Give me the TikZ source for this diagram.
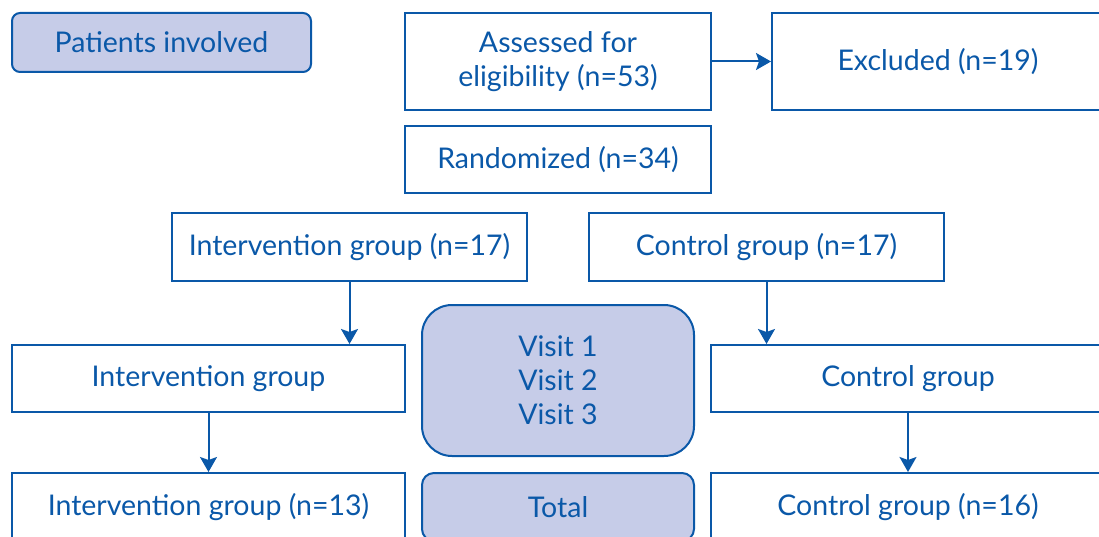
\documentclass[tikz,border=0pt]{standalone}
\usepackage{fontspec}
\setmainfont{Lato}
\usetikzlibrary{arrows.meta}
\definecolor{flowblue}{RGB}{10,88,168}
\definecolor{flowfill}{RGB}{198,204,232}

\begin{document}
\begin{tikzpicture}[x=1pt, y=-1pt,
		box/.style={draw=flowblue, line width=2pt, text=flowblue, align=center, inner sep=0pt,
			font=\fontsize{28.5}{34}\selectfont},
		softbox/.style={box, fill=flowfill, rounded corners=#1},
		link/.style={draw=flowblue, line width=2pt, -{Stealth[length=15pt, width=17pt, inset=3pt]}}]
			%%%%% START %%%%%
			
			\useasboundingbox (0, 0) rectangle (1099, 537);
			\clip (0, 0) rectangle (1099, 537);
			
			\node[softbox=8pt, minimum width=299pt, minimum height=59pt] (patients) at (161.5, 42.5) {Patients involved};
			
			\node[box, minimum width=306pt, minimum height=97pt] (assessed) at (558, 61.5) {Assessed for\\eligibility (n=53)};
			\node[box, minimum width=332pt, minimum height=97pt] (excluded) at (938, 61.5) {Excluded (n=19)};
			\node[box, minimum width=306pt, minimum height=67pt] (randomized) at (558, 159.5) {Randomized (n=34)};
			
			\node[box, minimum width=355pt, minimum height=68pt] (intA) at (349.5, 247) {Intervention group (n=17)};
			\node[box, minimum width=355pt, minimum height=68pt] (ctrlA) at (766.5, 247) {Control group (n=17)};
			
			\node[box, minimum width=393pt, minimum height=67pt] (intB) at (208.5, 378.5) {Intervention group};
			\node[softbox=30pt, minimum width=272pt, minimum height=151pt] (visits) at (558, 380.5) {Visit 1\\Visit 2\\Visit 3};
			\node[box, minimum width=394pt, minimum height=67pt] (ctrlB) at (908, 378.5) {Control group};
			
			\node[box, minimum width=393pt, minimum height=68pt] (intC) at (208.5, 507) {Intervention group (n=13)};
			\node[softbox=12pt, minimum width=272pt, minimum height=68pt] (total) at (558, 507) {Total};
			\node[box, minimum width=394pt, minimum height=68pt] (ctrlC) at (908, 507) {Control group (n=16)};
			
			\draw[link] (assessed.east) -- (excluded.west);
			\draw[link] (intA.south) -- (intA.south |- intB.north);
			\draw[link] (ctrlA.south) -- (ctrlA.south |- ctrlB.north);
			\draw[link] (intB.south) -- (intC.north);
			\draw[link] (ctrlB.south) -- (ctrlC.north);
			
			%%%%% END %%%%%
\end{tikzpicture}
\end{document}
